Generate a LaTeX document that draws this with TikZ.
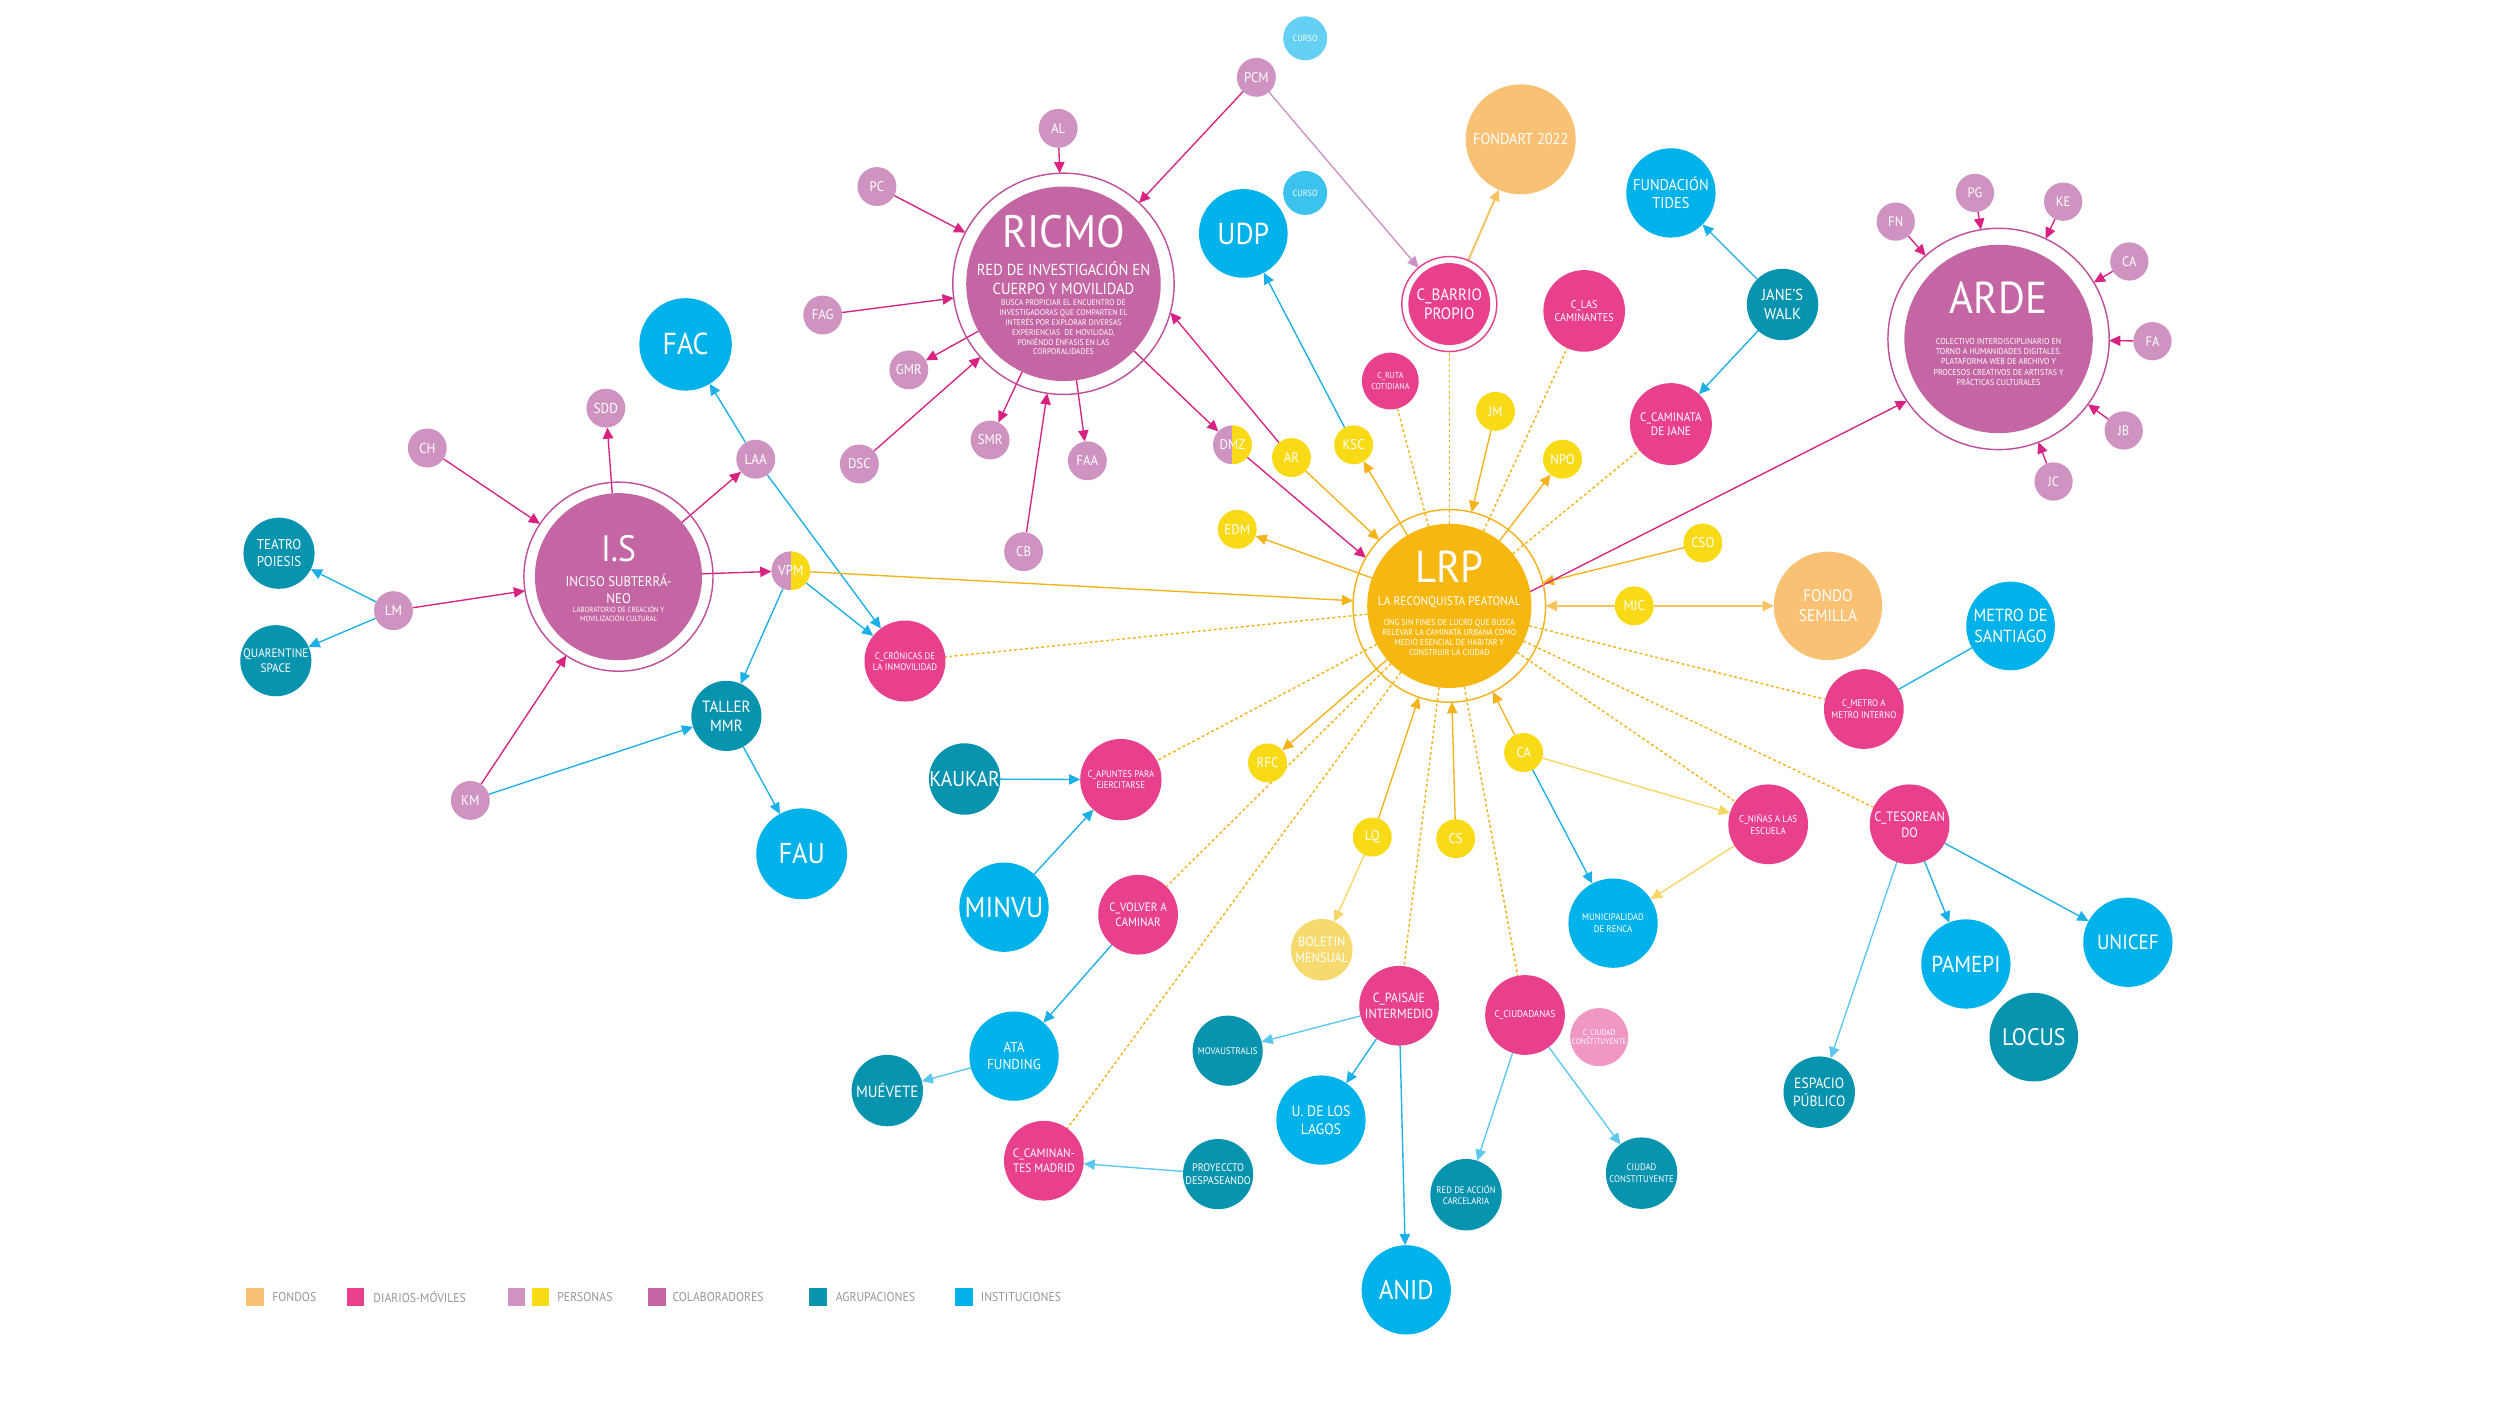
\documentclass[tikz,border=0pt]{standalone}
\usepackage{fontspec}
\setmainfont{PT Sans}[FakeStretch=0.92]
\usetikzlibrary{arrows.meta}
\definecolor{cFondo}{RGB}{248,193,115}
\definecolor{cDiar}{RGB}{232,64,141}
\definecolor{cLil}{RGB}{207,147,194}
\definecolor{cYel}{RGB}{249,218,23}
\definecolor{cCol}{RGB}{196,102,163}
\definecolor{cAgr}{RGB}{8,147,174}
\definecolor{cInst}{RGB}{0,178,234}
\definecolor{cLrp}{RGB}{246,184,16}
\definecolor{cBol}{RGB}{247,218,110}
\definecolor{cPink}{RGB}{241,151,195}
\definecolor{cCur1}{RGB}{100,208,244}
\definecolor{cCur2}{RGB}{59,195,238}
\definecolor{cRingC}{RGB}{192,80,155}
\definecolor{eMag}{RGB}{217,35,130}
\definecolor{eBlue}{RGB}{27,176,232}
\definecolor{eLBlue}{RGB}{90,200,240}
\definecolor{eOr}{RGB}{245,178,25}
\definecolor{eLOr}{RGB}{247,196,95}
\definecolor{eLYel}{RGB}{247,214,100}
\definecolor{eLil}{RGB}{205,145,195}
\definecolor{cLeg}{RGB}{150,150,160}
\newcommand\myfs[1]{\fontsize{#1}{1.18\dimexpr#1pt\relax}\selectfont}
\newcommand\cn[7]{\node[#2,minimum size=2*#5] (#1) at (#3,#4) {};\node[txt,font=\myfs{#6}] (#1t) at (#1) {#7};}
\pgfdeclarelayer{bgzero}
\pgfdeclarelayer{edges}
\pgfsetlayers{bgzero,edges,main}
\tikzset{
  nBase/.style={circle,inner sep=0pt,outer sep=0pt},
  nPers/.style={nBase,fill=cLil},
  nYel/.style={nBase,fill=cYel},
  nDiar/.style={nBase,fill=cDiar},
  nInst/.style={nBase,fill=cInst},
  nAgr/.style={nBase,fill=cAgr},
  nFondo/.style={nBase,fill=cFondo},
  nCol/.style={nBase,fill=cCol},
  nLrp/.style={nBase,fill=cLrp},
  nBol/.style={nBase,fill=cBol},
  nPink/.style={nBase,fill=cPink},
  nCur1/.style={nBase,fill=cCur1},
  nCur2/.style={nBase,fill=cCur2},
  nRing/.style={nBase,line width=0.9pt},
  nHalf/.style={nBase,path picture={
      \fill[cLil] (path picture bounding box.south west) rectangle (path picture bounding box.north);
      \fill[cYel] (path picture bounding box.south) rectangle (path picture bounding box.north east);}},
  txt/.style={text=white,align=center,inner sep=0pt},
  ma/.style={draw=eMag,line width=0.85pt,-{Triangle[length=7pt,width=6.5pt]}},
  ba/.style={draw=eBlue,line width=0.85pt,-{Triangle[length=7pt,width=6.5pt]}},
  lba/.style={draw=eLBlue,line width=0.85pt,-{Triangle[length=7pt,width=6.5pt]}},
  bl/.style={draw=eBlue,line width=0.85pt},
  oa/.style={draw=eOr,line width=0.85pt,-{Triangle[length=7pt,width=6.5pt]}},
  loa/.style={draw=eLOr,line width=1.2pt,-{Triangle[length=7pt,width=6.5pt]}},
  lya/.style={draw=eLYel,line width=0.85pt,-{Triangle[length=7pt,width=6.5pt]}},
  lila/.style={draw=eLil,line width=0.85pt,-{Triangle[length=7pt,width=6.5pt]}},
  dotl/.style={draw=eOr,line width=0.9pt,dash pattern=on 1.8pt off 1.6pt},
  legsq/.style={rectangle,minimum size=11,inner sep=0pt},
  legtx/.style={anchor=west,inner sep=0pt,text=cLeg,font=\myfs{8}}
}
\begin{document}
\begin{tikzpicture}[x=1pt,y=-1pt]
\begin{pgfonlayer}{bgzero}
\fill[white] (0,0) rectangle (1568,882);
\end{pgfonlayer}
\useasboundingbox (0,0) rectangle (1568,882);

% ---------- I.S ----------
\node[nRing,draw=cRingC,minimum size=118.6] (isR) at (387.9,361.7) {};
\node[nCol,minimum size=104.8] (is) at (387.9,361.7) {};
\node[txt,font=\myfs{23}] (isT1) at (388,344) {I.S};
\node[txt,font=\myfs{8.8}] (isT2) at (388,369.3) {INCISO SUBTERRÁ-\\NEO};
\node[txt,font=\myfs{4.7}] (isT3) at (388,384.8) {LABORATORIO DE CREACIÓN Y\\MOVILIZACIÓN CULTURAL};

\cn{sdd}{nPers}{380}{256}{12.2}{9}{SDD}
\cn{ch}{nPers}{268}{281}{12.2}{9}{CH}
\cn{laa}{nPers}{474}{288}{12.2}{9}{LAA}
\cn{lm}{nPers}{246.8}{383}{12.2}{9}{LM}
\cn{km}{nPers}{295}{502}{12.2}{9}{KM}
\cn{fac}{nInst}{430}{216}{29}{19}{FAC}
\cn{teatro}{nAgr}{175}{347}{22.3}{8.9}{TEATRO\\POIESIS}
\cn{quar}{nAgr}{173}{414.4}{22.3}{7.7}{QUARENTINE\\SPACE}
\cn{vpm}{nHalf}{496}{358}{12.2}{9}{VPM}
\cn{cron}{nDiar}{567.6}{414.6}{25.4}{6}{C\_CRÓNICAS DE\\LA INMOVILIDAD}
\cn{taller}{nAgr}{455.6}{449}{22}{10.2}{TALLER\\MMR}
\cn{fau}{nInst}{502.8}{535.5}{28.5}{18}{FAU}
\cn{kaukar}{nAgr}{605}{488.6}{22.4}{13.4}{KAUKAR}

% ---------- RICMO ----------
\node[nRing,draw=cRingC,minimum size=138.8] (ricmoR) at (667,178) {};
\node[nCol,minimum size=122] (ricmo) at (667,178) {};
\node[txt,font=\myfs{28.5}] (ricmoT1) at (667,145) {RICMO};
\node[txt,font=\myfs{10}] (ricmoT2) at (667,174.3) {RED DE INVESTIGACIÓN EN\\CUERPO Y MOVILIDAD};
\node[txt,font=\myfs{5.2}] (ricmoT3) at (667,205.4) {BUSCA PROPICIAR EL ENCUENTRO DE\\INVESTIGADORAS QUE COMPARTEN EL\\INTERÉS POR EXPLORAR DIVERSAS\\EXPERIENCIAS \ DE MOVILIDAD,\\PONIÉNDO ÉNFASIS EN LAS\\CORPORALIDADES};

\cn{al}{nPers}{663.7}{80.5}{12.2}{8.8}{AL}
\cn{pc}{nPers}{550}{117}{12.2}{8.8}{PC}
\cn{fag}{nPers}{516}{197.6}{12.2}{8.8}{FAG}
\cn{gmr}{nPers}{570}{232}{12.2}{8.8}{GMR}
\cn{dsc}{nPers}{539}{291}{12.2}{8.8}{DSC}
\cn{smr}{nPers}{621}{276}{12.2}{8.8}{SMR}
\cn{cb}{nPers}{642}{346}{12.2}{8.8}{CB}
\cn{faa}{nPers}{682}{289}{12.2}{8.8}{FAA}
\cn{dmz}{nHalf}{773}{279}{12.2}{8.8}{DMZ}
\cn{pcm}{nPers}{788}{48.5}{12.2}{8.8}{PCM}
\cn{cur1}{nCur1}{818.6}{24}{13.8}{5.6}{CURSO}
\cn{udp}{nInst}{779.8}{146.4}{27.8}{19}{UDP}
\cn{cur2}{nCur2}{818.6}{121}{13.8}{5.6}{CURSO}

% ---------- LRP ----------
\node[nRing,draw=eOr,minimum size=120.8] (lrpR) at (909,380) {};
\node[nLrp,minimum size=103] (lrp) at (909,380) {};
\node[txt,font=\myfs{28}] (lrpT1) at (909,355.4) {LRP};
\node[txt,font=\myfs{7.8}] (lrpT2) at (909,378) {LA RECONQUISTA PEATONAL};
\node[txt,font=\myfs{5.4}] (lrpT3) at (909,399.7) {ONG SIN FINES DE LUCRO QUE BUSCA\\RELEVAR LA CAMINATA URBANA COMO\\MEDIO ESENCIAL DE HABITAR Y\\CONSTRUIR LA CIUDAD};

\cn{ar}{nYel}{810}{287}{12.2}{8.8}{AR}
\cn{ksc}{nYel}{849}{279}{12.2}{8.8}{KSC}
\cn{edm}{nYel}{776}{332}{12.2}{8.8}{EDM}
\cn{jm}{nYel}{938}{258}{12.2}{8.8}{JM}
\cn{npo}{nYel}{980}{288}{12.2}{8.8}{NPO}
\cn{cso}{nYel}{1068}{340.6}{12.2}{8.8}{CSO}
\cn{mjc}{nYel}{1025}{380}{12.2}{8.8}{MJC}
\cn{rfc}{nYel}{795}{478.5}{12.2}{8.8}{RFC}
\cn{ca}{nYel}{955.6}{472}{12.2}{8.8}{CA}
\cn{lq}{nYel}{860.7}{525}{12.2}{8.8}{LQ}
\cn{cs}{nYel}{913}{526}{12.2}{8.8}{CS}
\cn{ruta}{nDiar}{872}{239}{17.8}{5.4}{C\_RUTA\\COTIDIANA}
\node[nRing,draw=cDiar,minimum size=59.6] (barrioR) at (909,190.7) {};
\cn{barrio}{nDiar}{909}{190.7}{25.7}{10.3}{C\_BARRIO\\PROPIO}
\cn{fondart}{nFondo}{953.8}{87.4}{34.5}{9.8}{FONDART 2022}
\cn{lascam}{nDiar}{993.6}{195}{25.6}{7}{C\_LAS\\CAMINANTES}
\cn{tides}{nInst}{1048}{121}{28}{9.8}{FUNDACIÓN\\TIDES}
\cn{janes}{nAgr}{1118}{191}{22.4}{10}{JANE’S\\WALK}
\cn{caminata}{nDiar}{1048}{266}{25.7}{7.7}{C\_CAMINATA\\DE JANE}
\cn{fsem}{nFondo}{1146.5}{380}{34}{10.5}{FONDO\\SEMILLA}
\cn{metro}{nInst}{1261}{392.6}{27.8}{11}{METRO DE\\SANTIAGO}
\cn{cmetro}{nDiar}{1169}{444.7}{25}{6}{C\_METRO A\\METRO INTERNO}
\cn{ninas}{nDiar}{1109}{517}{25}{6.1}{C\_NIÑAS A LAS\\ESCUELA}
\cn{tesor}{nDiar}{1197.7}{517}{25}{8.5}{C\_TESOREAN\\DO}
\cn{muni}{nInst}{1011.7}{579}{28}{6}{MUNICIPALIDAD\\DE RENCA}
\cn{pamepi}{nInst}{1233}{604.6}{28}{14.5}{PAMEPI}
\cn{unicef}{nInst}{1334.6}{591}{28}{13}{UNICEF}
\cn{locus}{nAgr}{1275.6}{650.5}{27.8}{15}{LOCUS}
\cn{espacio}{nAgr}{1141}{685}{22.4}{9.3}{ESPACIO\\PÚBLICO}
\cn{boletin}{nBol}{829}{595.7}{19.3}{8.4}{BOLETIN\\MENSUAL}
\cn{apuntes}{nDiar}{703}{489}{25.5}{6}{C\_APUNTES PARA\\EJERCITARSE}
\cn{minvu}{nInst}{629.7}{569}{28}{18}{MINVU}
\cn{volver}{nDiar}{713.8}{573.7}{25}{7.6}{C\_VOLVER A\\CAMINAR}
\cn{ata}{nInst}{636}{662.4}{28}{9}{ATA\\FUNDING}
\cn{muevete}{nAgr}{556.5}{684}{22.4}{10.2}{MUÉVETE}
\cn{cmadrid}{nDiar}{654.7}{728}{25}{7.7}{C\_CAMINAN-\\TES MADRID}
\cn{proy}{nAgr}{764}{736.4}{22}{6.9}{PROYECCTO\\DESPASEANDO}
\cn{paisaje}{nDiar}{877.5}{630.8}{25}{8.3}{C\_PAISAJE\\INTERMEDIO}
\cn{movaus}{nAgr}{770}{659}{22}{6}{MOVAUSTRALIS}
\cn{ulagos}{nInst}{828.5}{702.5}{28}{9.4}{U. DE LOS\\LAGOS}
\cn{anid}{nInst}{882}{809}{28}{17}{ANID}
\cn{ciud}{nDiar}{956.5}{636.6}{25}{6.2}{C\_CIUDADANAS}
\cn{ciudpk}{nPink}{1003}{650.5}{18.2}{5.1}{C\_CIUDAD\\CONSTITUYENTE}
\cn{redac}{nAgr}{919.5}{749.3}{22.4}{5.9}{RED DE ACCIÓN\\CARCELARIA}
\cn{ciudcon}{nAgr}{1029.6}{735.8}{22.4}{6}{CIUDAD\\CONSTITUYENTE}

% ---------- ARDE ----------
\node[nRing,draw=cRingC,minimum size=138.8] (ardeR) at (1253.5,212.6) {};
\node[nCol,minimum size=118.2] (arde) at (1253.5,212.6) {};
\node[txt,font=\myfs{28}] (ardeT1) at (1253.5,187) {ARDE};
\node[txt,font=\myfs{5.4}] (ardeT2) at (1253.5,227) {COLECTIVO INTERDISCIPLINARIO EN\\TORNO A HUMANIDADES DIGITALES.\\PLATAFORMA WEB DE ARCHIVO Y\\PROCESOS CREATIVOS DE ARTISTAS Y\\PRÁCTICAS CULTURALES};
\cn{fn}{nPers}{1189}{139}{12}{8.6}{FN}
\cn{pg}{nPers}{1238.7}{121}{12}{8.6}{PG}
\cn{ke}{nPers}{1294}{126.5}{12}{8.6}{KE}
\cn{caA}{nPers}{1335.5}{164}{12}{8.6}{CA}
\cn{fa}{nPers}{1350}{214}{12}{8.6}{FA}
\cn{jb}{nPers}{1332}{270}{12}{8.6}{JB}
\cn{jc}{nPers}{1288}{302}{12}{8.6}{JC}

% ---------- legend ----------
\node[legsq,fill=cFondo] (lg1) at (160,813.6) {};
\node[legtx] (lg1t) at (170.6,813.3) {FONDOS};
\node[legsq,fill=cDiar] (lg2) at (223,813.6) {};
\node[legtx] (lg2t) at (234,813.3) {DIARIOS-MÓVILES};
\node[legsq,fill=cLil] (lg3a) at (323.8,813.6) {};
\node[legsq,fill=cYel] (lg3b) at (339,813.6) {};
\node[legtx] (lg3t) at (349.4,813.3) {PERSONAS};
\node[legsq,fill=cCol] (lg4) at (412,813.6) {};
\node[legtx] (lg4t) at (421.6,813.3) {COLABORADORES};
\node[legsq,fill=cAgr] (lg5) at (513,813.6) {};
\node[legtx] (lg5t) at (524,813.3) {AGRUPACIONES};
\node[legsq,fill=cInst] (lg6) at (604.6,813.6) {};
\node[legtx] (lg6t) at (615,813.3) {INSTITUCIONES};

% ---------- edges ----------
\begin{pgfonlayer}{edges}
% I.S
\draw[ma] (ch) -- (isR);
\draw[ma] (is) -- (sdd);
\draw[ma] (is) -- (laa);
\draw[ma] (is) -- (vpm);
\draw[ma] (lm) -- (isR);
\draw[ma] (km) -- (isR);
\draw[ba] (lm) -- (teatro);
\draw[ba] (lm) -- (quar);
\draw[ba] (km) -- (taller);
\draw[ba] (laa) -- (fac);
\draw[ba] (laa) -- (cron);
\draw[ba] (vpm) -- (cron);
\draw[ba] (vpm) -- (taller);
\draw[ba] (taller) -- (fau);
\draw[oa] (vpm) -- (lrpR);
% RICMO
\draw[ma] (al) -- (ricmoR);
\draw[ma] (pc) -- (ricmoR);
\draw[ma] (fag) -- (ricmoR);
\draw[ma] (ricmo) -- (gmr);
\draw[ma] (dsc) -- (ricmoR);
\draw[ma] (ricmo) -- (smr);
\draw[ma] (cb) -- (ricmoR);
\draw[ma] (ricmo) -- (faa);
\draw[ma] (ricmo) -- (dmz);
\draw[ma] (pcm) -- (ricmoR);
\draw[ma] (ar) -- (ricmoR.-15);
\draw[ma] (dmz) -- (lrpR.150);
\draw[lila] (pcm) -- (barrioR);
\draw[ba] (ksc) -- (udp);
% LRP
\draw[oa] (ar) -- (lrpR);
\draw[oa] (lrp) -- (ksc);
\draw[oa] (lrp) -- (edm);
\draw[oa] (jm) -- (lrpR);
\draw[oa] (lrp) -- (npo);
\draw[oa] (cso) -- (lrpR);
\draw[loa] (mjc) -- (lrpR);
\draw[loa] (mjc) -- (fsem);
\draw[oa] (lrp) -- (rfc);
\draw[oa] (lq) -- (lrpR);
\draw[oa] (cs) -- (lrpR);
\draw[oa] (ca) -- (lrpR);
\draw[ma] (lrp.10) -- (ardeR.214);
\draw[loa] (barrioR) -- (fondart);
\draw[ba] (janes) -- (tides);
\draw[ba] (janes) -- (caminata);
\draw[lya] (ca) -- (ninas);
\draw[ba] (ca) -- (muni);
\draw[lya] (ninas) -- (muni);
\draw[lya] (lq) -- (boletin);
\draw[bl] (metro) -- (cmetro);
\draw[ba] (tesor) -- (pamepi);
\draw[ba] (tesor) -- (unicef);
\draw[lba] (tesor) -- (espacio);
\draw[ba] (kaukar) -- (apuntes);
\draw[ba] (minvu) -- (apuntes);
\draw[ba] (volver) -- (ata);
\draw[lba] (ata) -- (muevete);
\draw[lba] (proy) -- (cmadrid);
\draw[lba] (paisaje) -- (movaus);
\draw[ba] (paisaje) -- (ulagos);
\draw[ba] (paisaje) -- (anid);
\draw[lba] (ciud) -- (redac);
\draw[lba] (ciud) -- (ciudcon);
% ARDE
\draw[ma] (fn) -- (ardeR);
\draw[ma] (pg) -- (ardeR);
\draw[ma] (ke) -- (ardeR);
\draw[ma] (caA) -- (ardeR);
\draw[ma] (fa) -- (ardeR);
\draw[ma] (jb) -- (ardeR);
\draw[ma] (jc) -- (ardeR);
% dotted links LRP - diarios
\draw[dotl] (lrp) -- (ruta);
\draw[dotl] (lrp) -- (barrioR);
\draw[dotl] (lrp) -- (lascam);
\draw[dotl] (lrp) -- (caminata);
\draw[dotl] (lrp) -- (cron);
\draw[dotl] (lrp) -- (cmetro);
\draw[dotl] (lrp) -- (ninas);
\draw[dotl] (lrp) -- (tesor);
\draw[dotl] (lrp) -- (apuntes);
\draw[dotl] (lrp) -- (volver);
\draw[dotl] (lrp) -- (cmadrid);
\draw[dotl] (lrp) -- (paisaje);
\draw[dotl] (lrp) -- (ciud);
\end{pgfonlayer}
\end{tikzpicture}
\end{document}
